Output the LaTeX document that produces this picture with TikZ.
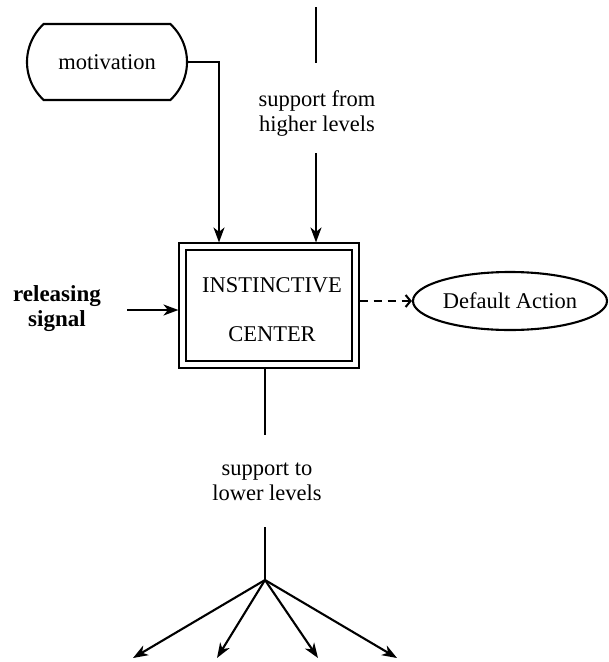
\documentclass[tikz,border=0pt]{standalone}
\usepackage{fontspec}
\setmainfont{Liberation Serif}
\usetikzlibrary{arrows.meta,shapes.geometric,shapes.misc}
\begin{document}
\begin{tikzpicture}[x=1pt,y=-1pt,
  every node/.style={font=\fontsize{22.5}{25}\selectfont, inner sep=0pt},
  wire/.style={line width=2.1pt},
  arr/.style={wire, -{Stealth[length=15pt,width=11pt,inset=4.5pt]}},
  dasharr/.style={line width=2.1pt, dash pattern=on 8pt off 6pt,
    -{Straight Barb[length=5pt,width=12pt]}},
  centerbox/.style={draw, line width=2.1pt, double, double distance=4.2pt,
    minimum width=173pt, minimum height=118pt, align=center},
  capsule/.style={draw, line width=2.1pt, rounded rectangle,
    rounded rectangle arc length=95, minimum width=160pt, minimum height=76pt},
  oval/.style={draw, line width=2.1pt, ellipse, minimum width=194pt, minimum height=58pt}]
\useasboundingbox (0,0) rectangle (609,662);

% nodes
\node[capsule] (mot) at (107,62) {motivation};
\node[centerbox] (box) at (269,305.5)
  {\rule{0pt}{24pt}\hspace*{6pt}INSTINCTIVE\\[24pt]\hspace*{6pt}CENTER};
\node[oval] (dflt) at (510,301) {Default Action};
\node[align=center, font=\fontsize{23}{25}\selectfont\bfseries] (rel) at (57,309) {releasing\\signal};
\node[align=center] (hi) at (317,114) {support from\\higher levels};
\node[align=center] (lo) at (267,482) {support to\\lower levels};

% free ends of the open connectors
\coordinate (topin) at (316,7);
\coordinate (topout) at (316,63);
\coordinate (histart) at (316,153);
\coordinate (relstart) at (127,310);
\coordinate (loend) at (265,435);
\coordinate (lostart) at (265,527);
\coordinate (apex) at (265,580);
\coordinate (t1) at (133,658);
\coordinate (t2) at (217,658);
\coordinate (t3) at (318,658);
\coordinate (t4) at (397,658);

% inputs
\draw[wire] (topin) -- (topout);
\draw[arr, shorten >=3pt] (histart) -- (histart |- box.north);
\draw[arr, shorten >=3pt] (mot.east) -| (box.north -| 219,0);
\draw[arr, shorten >=3pt] (relstart) -- (relstart -| box.west);

% output to the default action
\draw[dasharr, shorten <=3pt] (box.east |- dflt.west) -- (dflt.west);

% support to lower levels
\draw[wire, shorten <=3pt] (box.south -| loend) -- (loend);
\draw[wire] (lostart) -- (apex);
\foreach \t in {t1,t2,t3,t4}
  \draw[arr] (apex) -- (\t);
\end{tikzpicture}
\end{document}
